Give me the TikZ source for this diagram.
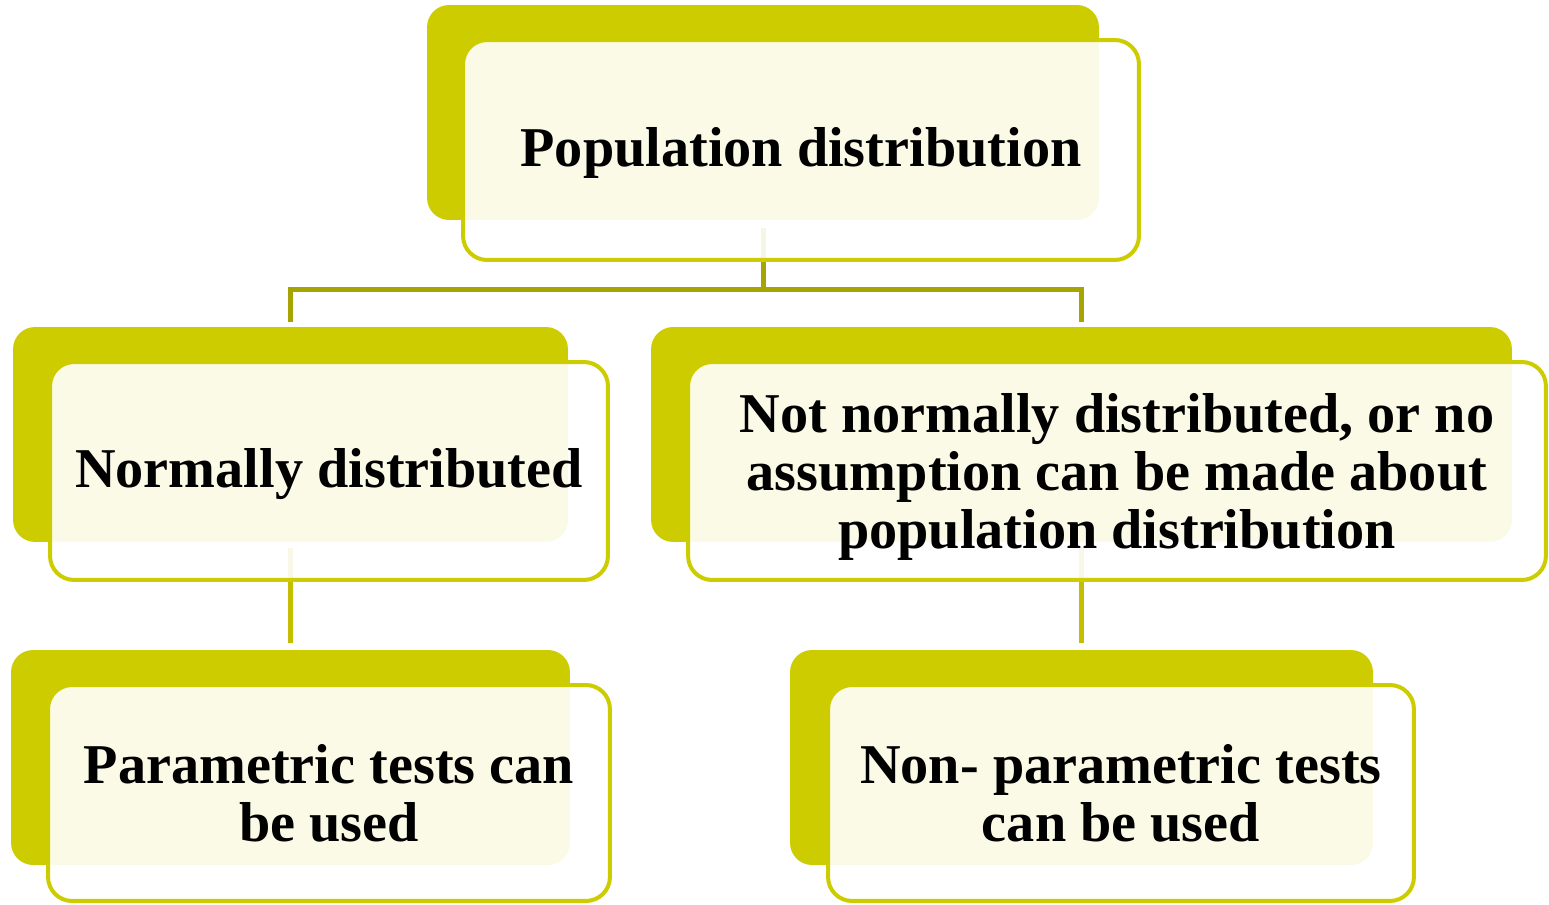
\documentclass[tikz,border=0pt]{standalone}
\usepackage{fontspec}
\setmainfont{Liberation Serif}
\definecolor{olivey}{RGB}{204,204,0}
\definecolor{connA}{RGB}{166,164,0}
\definecolor{connB}{RGB}{196,190,0}
\begin{document}
\begin{tikzpicture}[
  x=0.02cm,y=-0.02cm,
  backbox/.style={fill=olivey,draw=none,rounded corners=0.44cm,minimum height=4.3cm,inner sep=0pt,outer sep=0pt},
  frontbox/.style={draw=olivey,line width=0.08cm,fill=white,fill opacity=0.9,text opacity=1,rounded corners=0.48cm,inner sep=0pt,outer sep=0pt,align=center,font=\bfseries\fontsize{32}{33}\selectfont},
  connone/.style={draw=connA,line width=0.1cm},
  conntwo/.style={draw=connB,line width=0.1cm}
]
\useasboundingbox (0,0) rectangle (1549,905);
% back boxes
\node[backbox,minimum width=13.44cm] (tb) at (763,112.5) {};
\node[backbox,minimum width=11.1cm] (mlb) at (290.5,434.5) {};
\node[backbox,minimum width=17.22cm] (mrb) at (1081.5,434.5) {};
\node[backbox,minimum width=11.18cm] (blb) at (290.5,757.5) {};
\node[backbox,minimum width=11.66cm] (brb) at (1081.5,757.5) {};
% connectors
\draw[connone] ([yshift=-0.16cm]tb.south) -- ++(0,62) coordinate (mid) -| ([yshift=0.1cm]mlb.north);
\draw[connone] (mid) -| ([yshift=0.1cm]mrb.north);
\draw[conntwo] ([yshift=-0.12cm]mlb.south) -- ([yshift=0.14cm]blb.north);
\draw[conntwo] ([yshift=-0.12cm]mrb.south) -- ([yshift=0.14cm]brb.north);
% front boxes
\node[frontbox,minimum width=13.52cm,minimum height=4.4cm] (tf) at (801,150) {\rule{0pt}{26pt}Population distribution};
\node[frontbox,minimum width=11.16cm,minimum height=4.36cm] (mlf) at (329,471) {\rule{0pt}{26pt}Normally distributed};
\node[frontbox,minimum width=17.16cm,minimum height=4.36cm] (mrf) at (1117,471) {\rule{0pt}{29pt}Not normally distributed, or no\\assumption can be made about\\population distribution};
\node[frontbox,minimum width=11.24cm,minimum height=4.32cm] (blf) at (329,793) {Parametric tests can\\be used};
\node[frontbox,minimum width=11.72cm,minimum height=4.32cm] (brf) at (1121,793) {Non- parametric tests\\can be used};
\end{tikzpicture}
\end{document}
